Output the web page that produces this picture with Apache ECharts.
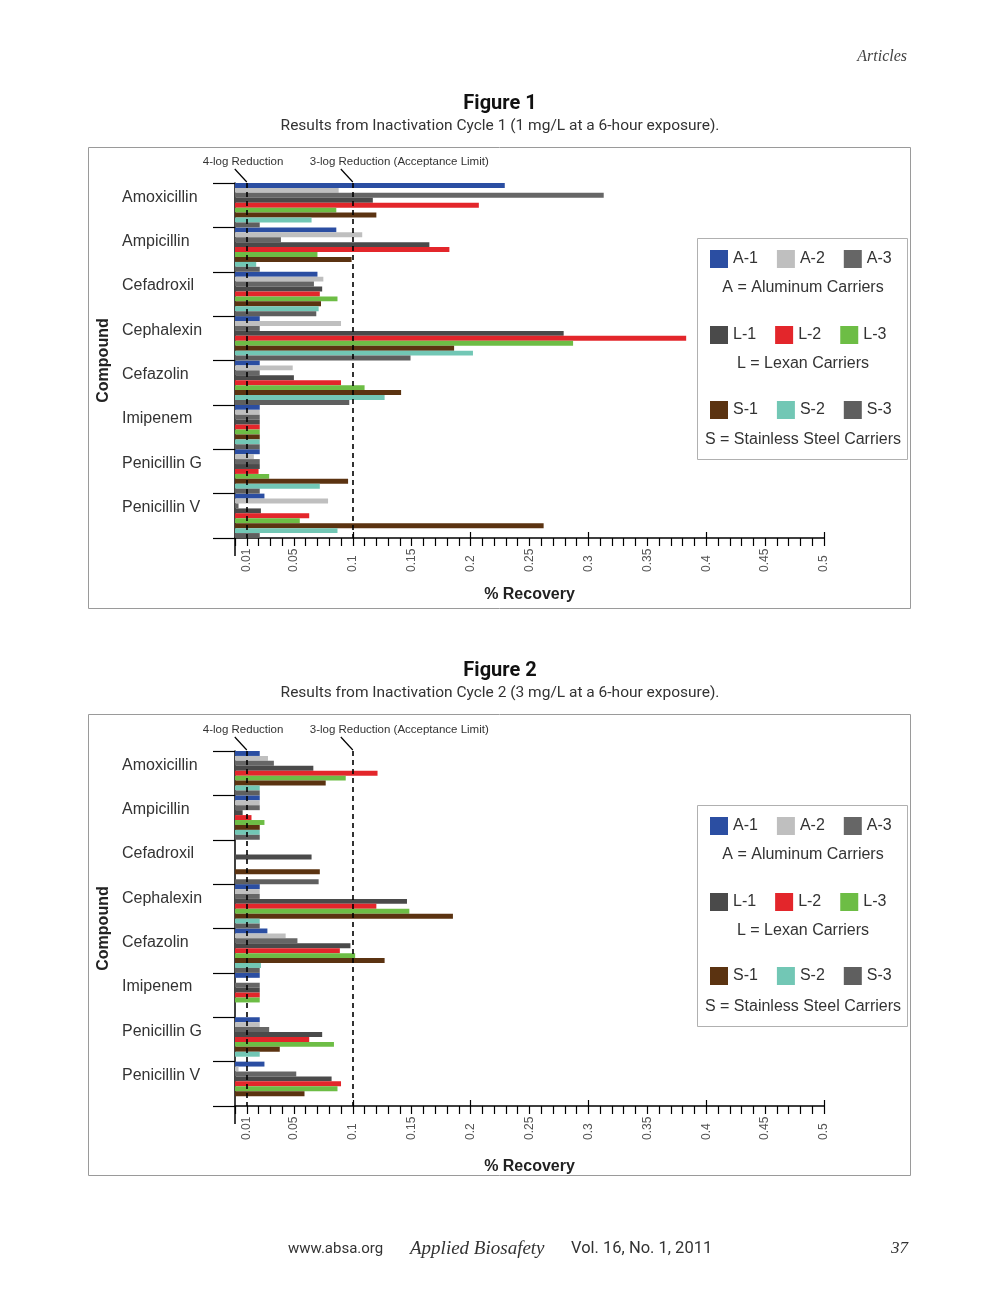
<!DOCTYPE html>
<html><head><meta charset="utf-8">
<script src="https://cdn.jsdelivr.net/npm/echarts@6/dist/echarts.min.js"></script>
<style>html,body{margin:0;padding:0;background:#fff}#c{width:1000px;height:1293px}</style>
</head><body><div id="c"></div>
<script>
// ---------- DATA ----------
const compounds = ['Amoxicillin','Ampicillin','Cefadroxil','Cephalexin','Cefazolin','Imipenem','Penicillin G','Penicillin V'];
const seriesNames = ['A-1','A-2','A-3','L-1','L-2','L-3','S-1','S-2','S-3'];
const xTickLabels = [0.01,0.05,0.1,0.15,0.2,0.25,0.3,0.35,0.4,0.45,0.5];
const xMajorTicks = [0.1,0.2,0.3,0.4,0.5];
const refLines = [0.01, 0.1];

// Figure 1 (Cycle 1) – % recovery per compound
const fig1A1 = [0.229,0.086,0.070,0.021,0.021,0.021,0.021,0.025];
const fig1A2 = [0.088,0.108,0.075,0.090,0.049,0.021,0.016,0.079];
const fig1A3 = [0.313,0.039,0.067,0.021,0.021,0.021,0.021,0.003];
const fig1L1 = [0.117,0.165,0.074,0.279,0.050,0.021,0.021,0.022];
const fig1L2 = [0.207,0.182,0.072,0.383,0.090,0.021,0.020,0.063];
const fig1L3 = [0.086,0.070,0.087,0.287,0.110,0.021,0.029,0.055];
const fig1S1 = [0.120,0.099,0.073,0.186,0.141,0.021,0.096,0.262];
const fig1S2 = [0.065,0.018,0.071,0.202,0.127,0.021,0.072,0.087];
const fig1S3 = [0.021,0.021,0.069,0.149,0.097,0.021,0.021,0.021];

// Figure 2 (Cycle 2)
const fig2A1 = [0.021,0.021,0,0.021,0.0275,0.021,0.021,0.025];
const fig2A2 = [0.028,0.021,0,0.021,0.043,0,0.021,0.003];
const fig2A3 = [0.033,0.021,0,0.021,0.053,0.021,0.029,0.052];
const fig2L1 = [0.0665,0.0065,0.065,0.146,0.098,0.021,0.074,0.082];
const fig2L2 = [0.121,0.014,0,0.120,0.089,0.021,0.063,0.090];
const fig2L3 = [0.094,0.025,0,0.148,0.102,0.021,0.084,0.087];
const fig2S1 = [0.077,0.021,0.072,0.185,0.127,0,0.038,0.059];
const fig2S2 = [0.021,0.021,0,0.021,0.022,0,0.021,0];
const fig2S3 = [0.021,0.021,0.071,0.021,0.021,0,0,0];

const fig1Data = [fig1A1,fig1A2,fig1A3,fig1L1,fig1L2,fig1L3,fig1S1,fig1S2,fig1S3];
const fig2Data = [fig2A1,fig2A2,fig2A3,fig2L1,fig2L2,fig2L3,fig2S1,fig2S2,fig2S3];

// ---------- STYLE ----------
const colors = ['#2b4ea2','#bfbfbf','#666666','#4a4a4a','#e3262b','#6dbd45','#5b3311','#72c7b5','#5f5f5f'];
const SANS = '"Liberation Sans", Arial, sans-serif';
const SERIF = '"Liberation Serif", "Times New Roman", serif';
const gridTops = [183, 751];
const nameGaps = [49, 53];
const GRID_LEFT = 235, GRID_W = 589, GRID_H = 355;

const chart = echarts.init(document.getElementById('c'));

const grids = gridTops.map(t => ({left: GRID_LEFT, top: t, width: GRID_W, height: GRID_H}));
const xAxes = [], yAxes = [], series = [], legends = [];
const tickLine = {color:'#000', width:1.2};

gridTops.forEach((t, g) => {
  xAxes.push({
    gridIndex: g, type:'value', min:0, max:0.5, interval:0.01, position:'bottom',
    axisLine:{show:true, onZero:false, lineStyle:{color:'#000', width:1.5}},
    axisTick:{show:true, length:8, lineStyle:tickLine},
    axisLabel:{customValues: xTickLabels, rotate:90, align:'left', verticalAlign:'middle', margin:34,
      fontSize:12, color:'#555', fontFamily:SANS},
    splitLine:{show:false},
    name:'% Recovery', nameLocation:'middle', nameGap:nameGaps[g],
    nameTextStyle:{fontSize:16, fontWeight:'bold', color:'#222', fontFamily:SANS}
  });
  xAxes.push({
    gridIndex: g, type:'value', min:0, max:0.5, position:'bottom',
    axisLine:{show:false}, axisLabel:{show:false}, splitLine:{show:false},
    axisTick:{show:true, inside:true, length:6, customValues: xMajorTicks, lineStyle:tickLine}
  });
  xAxes.push({
    gridIndex: g, type:'value', min:0, max:0.5, position:'bottom',
    axisLine:{show:false}, axisLabel:{show:false}, splitLine:{show:false},
    axisTick:{show:true, length:18, customValues:[0], lineStyle:{color:'#000', width:1.5}}
  });
  yAxes.push({
    gridIndex: g, type:'category', data: compounds, inverse:true,
    axisLine:{show:true, onZero:false, lineStyle:{color:'#000', width:1.5}},
    axisTick:{show:true, length:22, lineStyle:tickLine},
    axisLabel:{align:'left', verticalAlign:'bottom', margin:113, fontSize:16, color:'#333', fontFamily:SANS},
    name:'Compound', nameLocation:'middle', nameGap:123, nameRotate:90,
    nameTextStyle:{fontSize:16, fontWeight:'bold', color:'#222', fontFamily:SANS}
  });
  const dataSet = g === 0 ? fig1Data : fig2Data;
  dataSet.forEach((arr, i) => {
    const s = {
      type:'bar', name: seriesNames[i], xAxisIndex: g*3, yAxisIndex: g, data: arr,
      barGap:'0%', barCategoryGap:'0%', itemStyle:{color: colors[i]},
      emphasis:{disabled:true}, silent:true
    };
    if (i === 0) {
      s.markLine = {
        silent:true, symbol:'none', label:{show:false}, animation:false,
        lineStyle:{color:'#000', type:[5,4], width:1.6},
        data: refLines.map(v => ({xAxis: v}))
      };
    }
    series.push(s);
  });
  const rowCenters = g === 0 ? [259, 335, 410] : [826, 902, 976];
  rowCenters.forEach((c, r) => {
    legends.push({
      data: seriesNames.slice(r*3, r*3+3), left: 710, top: c - 9, orient:'horizontal',
      itemWidth:18, itemHeight:18, itemGap:19, icon:'rect', padding:0, selectedMode:false,
      textStyle:{fontSize:16, color:'#333', fontFamily:SANS}
    });
  });
});

chart.setOption({
  animation:false,
  backgroundColor:'#fff',
  grid: grids, xAxis: xAxes, yAxis: yAxes, series: series, legend: legends
});

// ---------- annotations & page text ----------
function txt(x, y, s, opt) {
  return Object.assign({type:'text', x, y, silent:true, style: Object.assign({
    text: s, fill:'#333', font: '14px ' + SANS, textAlign:'center', textVerticalAlign:'middle'
  }, opt || {})});
}
const els = [];
els.push(txt(907, 57, 'Articles', {textAlign:'right', font:'italic 16px ' + SERIF, fill:'#444'}));
els.push(txt(288, 1249, 'www.absa.org', {textAlign:'left', font:'15px Roboto, ' + SANS, fill:'#333'}));
els.push(txt(410, 1249, 'Applied Biosafety', {textAlign:'left', font:'italic 19px ' + SERIF, fill:'#333'}));
els.push(txt(571, 1249, 'Vol. 16, No. 1, 2011', {textAlign:'left', font:'16.5px Roboto, ' + SANS, fill:'#333'}));
els.push(txt(908, 1249, '37', {textAlign:'right', font:'italic 17px ' + SERIF, fill:'#333'}));

const figTitles = ['Figure 1','Figure 2'];
const figSubs = ['Results from Inactivation Cycle 1 (1 mg/L at a 6-hour exposure).',
                 'Results from Inactivation Cycle 2 (3 mg/L at a 6-hour exposure).'];
const captions = ['A = Aluminum Carriers','L = Lexan Carriers','S = Stainless Steel Carriers'];
const figOffsets = [0, 567];
figOffsets.forEach((o, g) => {
  els.push(txt(500, 104 + o, figTitles[g], {font:'bold 20px Roboto, ' + SANS, fill:'#111'}));
  els.push(txt(500, 126 + o, figSubs[g], {font:'15.5px Roboto, ' + SANS, fill:'#333'}));
  els.push({type:'rect', silent:true, shape:{x:88.5, y:147.5 + o, width:822, height:461},
            style:{fill:'none', stroke:'#9a9a9a', lineWidth:1}});
  els.push({type:'rect', silent:true, shape:{x:697.5, y:238.5 + o, width:210, height:221},
            style:{fill:'none', stroke:'#b0b0b0', lineWidth:1}});
  [288, 364, 440].forEach((y, k) => els.push(txt(803, y + o, captions[k], {font:'16px ' + SANS, fill:'#333'})));
  const top = gridTops[g];
  const x4 = chart.convertToPixel({xAxisIndex: g*3}, refLines[0]);
  const x3 = chart.convertToPixel({xAxisIndex: g*3}, refLines[1]);
  els.push({type:'line', silent:true, shape:{x1:x4-12, y1:top-14, x2:x4, y2:top-1}, style:{stroke:'#000', lineWidth:1.2}});
  els.push({type:'line', silent:true, shape:{x1:x3-12, y1:top-14, x2:x3, y2:top-1}, style:{stroke:'#000', lineWidth:1.2}});
  els.push(txt(x4 - 44, top - 21, '4-log Reduction', {textAlign:'left', font:'11.5px ' + SANS, fill:'#333'}));
  els.push(txt(x3 - 43, top - 21, '3-log Reduction (Acceptance Limit)', {textAlign:'left', font:'11.5px ' + SANS, fill:'#333'}));
});
chart.setOption({graphic: {elements: els}});
</script>
</body></html>
